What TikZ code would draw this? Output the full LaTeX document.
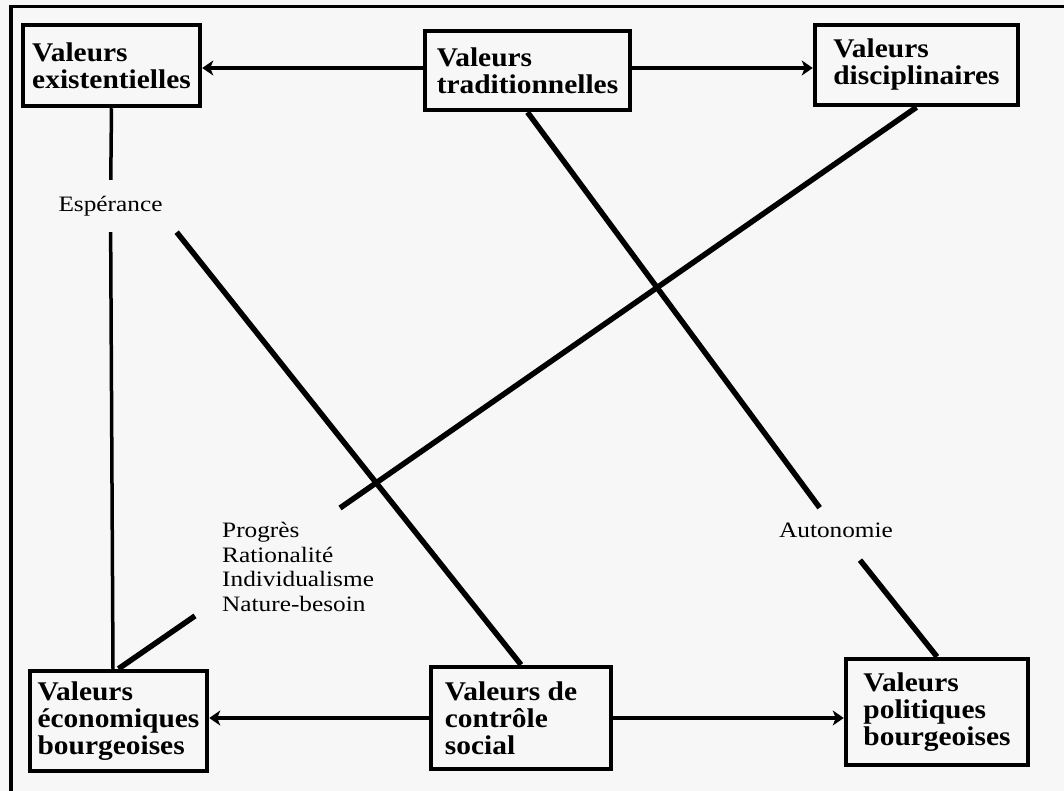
\documentclass[tikz,border=0pt]{standalone}
\usepackage{fontspec}
\setmainfont{Liberation Serif}
\newfontfamily\boxfont[FakeStretch=1.09]{Liberation Serif}
\newfontfamily\lblfont[FakeStretch=1.15]{Liberation Serif}
\usetikzlibrary{arrows.meta}

\begin{document}
\begin{tikzpicture}[x=1pt,y=-1pt,
  valbox/.style={draw, rectangle, line width=4.5pt, align=left, inner sep=0pt,
    font=\boxfont\bfseries\fontsize{27}{27}\selectfont},
  lbl/.style={align=left, inner sep=0pt,
    font=\lblfont\fontsize{22}{24.5}\selectfont},
  arr/.style={line width=4.5pt, -{Stealth[length=11pt,width=15pt,inset=3pt]}},
  diag/.style={line width=5.5pt},
  stem/.style={line width=3.5pt}
]
\useasboundingbox (0,0) rectangle (1064,791);
\fill[black!3] (0,0) rectangle (1064,791);
% page frame: left and top rules
\draw[line width=3.5pt] (11,791) -- (11,6.5) -- (1064,6.5);

% value boxes
\node[valbox, minimum width=177pt, minimum height=81pt]  (exist) at (111.5,65.5) {Valeurs\\existentielles};
\node[valbox, minimum width=205pt, minimum height=79pt]  (trad)  at (527.5,70.5) {Valeurs\\traditionnelles};
\node[valbox, minimum width=203pt, minimum height=80pt]  (disc)  at (916.5,65)   {Valeurs\\disciplinaires};
\node[valbox, minimum width=177pt, minimum height=100pt] (econ)  at (118.5,721)  {Valeurs\\économiques\\bourgeoises};
\node[valbox, minimum width=180pt, minimum height=102pt] (ctrl)  at (521,718)    {Valeurs de\hspace*{20pt}\\contrôle\\social};
\node[valbox, minimum width=182pt, minimum height=106pt] (polit) at (937,712)    {Valeurs\\politiques\\bourgeoises};

% labels on the links
\node[lbl, inner xsep=14pt, inner ysep=16pt] (esp)  at (110.5,206) {Espérance};
\node[lbl, inner xsep=4pt, inner ysep=14.7pt] (auto) at (836,530)   {Autonomie};
\node[lbl, anchor=north west] (lst) at (222,522) {Progrès\\Rationalité\\Individualisme\\Nature-besoin};

% arrows between boxes
\coordinate (tw) at ([yshift=2.5pt]trad.west);
\coordinate (te) at ([yshift=2.5pt]trad.east);
\draw[arr] (tw) -- (tw -| exist.east);
\draw[arr] (te) -- (te -| disc.west);
\draw[arr] (ctrl.west) -- (ctrl.west -| econ.east);
\draw[arr] (ctrl.east) -- (ctrl.east -| polit.west);

% plain links
\draw[stem] (exist.south) -- (esp);
\draw[stem] (esp) -- ([xshift=-5.5pt]econ.north);
\draw[diag] (esp.south east) -- (ctrl.north);
\draw[diag] (trad.south) -- (auto);
\draw[diag, shorten <=10pt] (auto) -- (polit.north);
\draw[diag] (disc.south) -- ([xshift=118pt,yshift=14pt]lst.north west);
\draw[diag] ([xshift=-27pt,yshift=-4.5pt]lst.south west) -- (econ.north);
\end{tikzpicture}
\end{document}
